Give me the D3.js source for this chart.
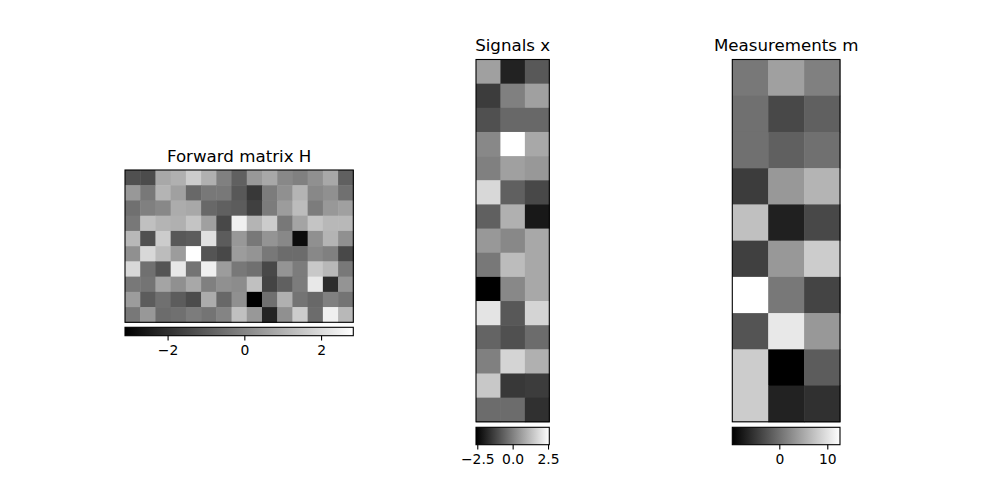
<!DOCTYPE html>
<html>
<head>
<meta charset="utf-8">
<script src="https://cdn.jsdelivr.net/npm/d3@7"></script>
<style>
  body { margin: 0; background: #fff; }
  text { font-family: "DejaVu Sans", sans-serif; fill: #000; }
</style>
</head>
<body>
<div id="chart-area"></div>
<script>
// values (grey level -> data units)
var forwardH = [
  [-1.24, -1.34, 0.81, 1.00, 1.65, 1.00, -0.12, -0.87, 0.44, 0.81, 0.06, -0.12, 0.25, 0.81, -0.87],
  [0.44, -0.31, 1.09, 0.62, -0.68, -0.31, -0.31, -1.06, -1.80, -0.22, 0.25, 1.09, 0.06, 0.25, -0.50],
  [-0.50, -0.12, 0.06, 0.90, 0.81, -0.68, -0.87, -0.96, -1.62, -0.22, 0.53, 1.28, -0.22, 0.44, 0.62],
  [-0.31, 1.37, 1.09, 1.00, 1.46, 0.62, -1.43, 2.49, 1.09, 1.65, -0.31, 0.72, 1.46, 1.18, 1.18],
  [1.18, -1.24, 1.65, -1.06, -0.96, 2.12, -0.96, 0.44, -0.31, 0.34, 0.06, -2.83, 0.25, 1.09, 0.25],
  [0.25, 1.93, 1.28, 0.53, 2.84, -1.15, -1.43, 0.53, 0.34, -0.31, -0.59, -0.59, 0.06, -0.12, -1.43],
  [1.93, -0.50, -1.15, 2.30, -0.40, 2.49, 0.53, -0.31, -0.50, -1.43, 0.34, -0.22, 1.56, 1.18, -0.31],
  [-0.31, -0.40, 0.72, 0.25, 0.81, -0.12, 0.25, 0.16, 1.37, -1.52, -0.87, -0.22, 2.30, -2.08, 0.34],
  [0.53, -0.96, -0.50, -0.96, -1.34, 0.90, -0.68, 0.25, -3.11, -0.50, 1.00, -0.40, -0.68, -0.12, -0.40],
  [-0.31, 0.44, -0.59, -0.50, -0.22, -0.40, -0.03, 1.37, 0.44, -2.27, 0.25, 1.65, -0.59, 2.49, 1.18]
];

var signalsX = [
  [0.66, -1.90, -0.80],
  [-1.37, 0.01, 0.66],
  [-0.96, -0.48, -0.48],
  [0.17, 2.59, 0.82],
  [0.01, 0.66, 0.50],
  [1.80, -0.64, -1.13],
  [-0.64, 0.99, -2.10],
  [0.50, 0.17, 0.82],
  [-0.15, 1.23, 0.82],
  [-2.59, 0.17, 0.82],
  [2.04, -0.80, 1.72],
  [-0.56, -0.96, -0.40],
  [0.01, 1.72, 0.99],
  [1.47, -1.45, -1.37],
  [-0.40, -0.40, -1.61]
];

var measurementsM = [
  [0.76, 4.29, 1.47],
  [0.06, -3.46, -1.35],
  [0.06, -1.35, 0.06],
  [-4.52, 3.58, 6.05],
  [7.10, -6.98, -3.46],
  [-4.17, 3.58, 8.16],
  [12.65, 0.76, -3.81],
  [-2.40, 10.63, 3.58],
  [8.16, -9.80, -1.70],
  [8.16, -6.81, -5.57]
];

var titles = ["Forward matrix H", "Signals x", "Measurements m"];
var hTicks = [-2, 0, 2];
var xTicks = [-2.5, 0, 2.5];
var mTicks = [0, 10];
var tickDigits = [0, 1, 0];

var width = 1000,
	height = 500;

// pixel boxes of each panel: image and colorbar
var boxes = [
	{x0: 125, x1: 353.3, y0: 170, y1: 322.3, cb0: 327.3, cb1: 335.7},
	{x0: 476, x1: 549.3, y0: 59.5, y1: 421.8, cb0: 427.3, cb1: 444.7},
	{x0: 732.3, x1: 840, y0: 59.5, y1: 421.8, cb0: 427.3, cb1: 444.7}
];

var svg = d3.select("#chart-area").append("svg")
	.attr("width", width)
	.attr("height", height);

var defs = svg.append("defs");

var datasets = [forwardH, signalsX, measurementsM];
var tickSets = [hTicks, xTicks, mTicks];

datasets.forEach(function(data, i) {
	var b = boxes[i];
	var nRows = data.length,
		nCols = data[0].length;
	var flat = d3.merge(data);
	var ext = d3.extent(flat);

	var colScale = d3.scaleBand().domain(d3.range(nCols)).range([b.x0, b.x1]);
	var rowScale = d3.scaleBand().domain(d3.range(nRows)).range([b.y0, b.y1]);
	var grey = d3.scaleLinear().domain(ext).range(["#000000", "#ffffff"]);

	var g = svg.append("g").attr("class", "panel" + i);

	// cells
	data.forEach(function(row, r) {
		g.selectAll(null)
			.data(row)
			.enter()
			.append("rect")
			.attr("x", function(d, c) { return colScale(c); })
			.attr("y", rowScale(r))
			.attr("width", colScale.bandwidth() + 0.5)
			.attr("height", rowScale.bandwidth() + 0.5)
			.attr("fill", function(d) { return grey(d); });
	});

	// frame
	g.append("rect")
		.attr("x", b.x0).attr("y", b.y0)
		.attr("width", b.x1 - b.x0).attr("height", b.y1 - b.y0)
		.attr("fill", "none")
		.attr("stroke", "#000")
		.attr("stroke-width", 1.1);

	// title
	g.append("text")
		.attr("x", (b.x0 + b.x1) / 2)
		.attr("y", b.y0 - 8.3)
		.attr("text-anchor", "middle")
		.style("font-size", "16.67px")
		.text(titles[i]);

	// colorbar
	var gradId = "grad" + i;
	var grad = defs.append("linearGradient").attr("id", gradId)
		.attr("x1", "0%").attr("x2", "100%").attr("y1", "0%").attr("y2", "0%");
	grad.append("stop").attr("offset", "0%").attr("stop-color", "#000");
	grad.append("stop").attr("offset", "100%").attr("stop-color", "#fff");

	g.append("rect")
		.attr("x", b.x0).attr("y", b.cb0)
		.attr("width", b.x1 - b.x0).attr("height", b.cb1 - b.cb0)
		.attr("fill", "url(#" + gradId + ")")
		.attr("stroke", "#000")
		.attr("stroke-width", 1.1);

	var cbScale = d3.scaleLinear().domain(ext).range([b.x0, b.x1]);
	var fmt = d3.format("." + tickDigits[i] + "f");
	var axis = d3.axisBottom(cbScale)
		.tickValues(tickSets[i])
		.tickSize(4.86)
		.tickPadding(4.3)
		.tickFormat(function(d) { return fmt(d).replace("-", "\u2212"); });

	var ax = g.append("g")
		.attr("transform", "translate(0," + b.cb1 + ")")
		.call(axis);
	ax.select(".domain").remove();
	ax.selectAll("line").attr("stroke", "#000").attr("stroke-width", 1.1);
	ax.selectAll("text")
		.style("font-family", "DejaVu Sans, sans-serif")
		.style("font-size", "13.89px")
		.attr("fill", "#000");
});
</script>
</body>
</html>
